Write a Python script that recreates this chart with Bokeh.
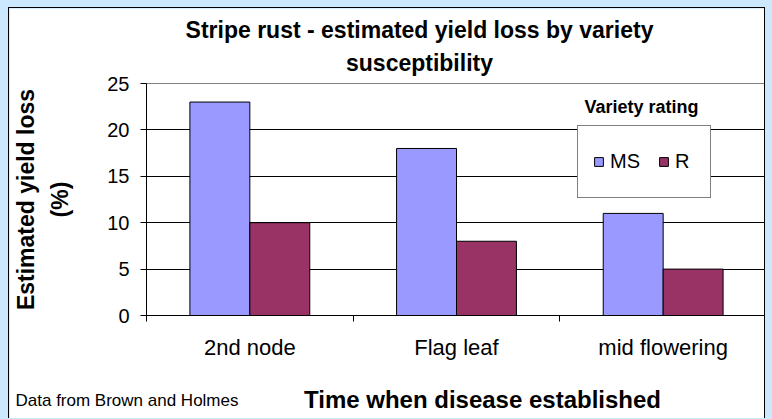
from bokeh.plotting import figure
from bokeh.models import Range1d, FixedTicker, Label, Legend, LegendItem, ColumnDataSource
from bokeh.transform import dodge
from bokeh.embed import file_html
from bokeh.resources import INLINE

categories = ["2nd node", "Flag leaf", "mid flowering"]
ms_values = [23, 18, 11]
r_values = [10, 8, 5]
series_names = ["MS", "R"]
series_colors = ["#9999FF", "#993366"]
y_ticks = [0, 5, 10, 15, 20, 25]
title_text = "Stripe rust - estimated yield loss by variety\nsusceptibility"
y_label = "Estimated yield loss\n(%)"
x_label = "Time when disease established"
note_text = "Data from Brown and Holmes"
legend_title = "Variety rating"

FONT = "Liberation Sans"

pos = [i + 0.5 for i in range(len(categories))]
src = ColumnDataSource(dict(pos=pos, ms=ms_values, r=r_values))

p = figure(width=757, height=411, output_backend="svg", toolbar_location=None, title=None,
           x_range=Range1d(0, len(categories)), y_range=Range1d(0, 25),
           min_border_left=137, min_border_right=0, min_border_top=75, min_border_bottom=104,
           background_fill_color="white", border_fill_color="white",
           styles={"border": "1px solid black", "border-bottom": "none"})
p.outline_line_color = "#808080"
p.outline_line_width = 1

r1 = p.vbar(x=dodge("pos", -0.145, range=p.x_range), top="ms", width=0.29, source=src,
            fill_color=series_colors[0], line_color="black", line_width=1)
r2 = p.vbar(x=dodge("pos", 0.145, range=p.x_range), top="r", width=0.29, source=src,
            fill_color=series_colors[1], line_color="black", line_width=1)

# x axis
xa = p.xaxis[0]
xa.ticker = FixedTicker(ticks=pos, minor_ticks=list(range(len(categories) + 1)))
xa.major_label_overrides = {pp: c for pp, c in zip(pos, categories)}
xa.major_tick_line_color = None
xa.major_tick_out = 0
xa.minor_tick_out = 6
xa.minor_tick_in = 0
xa.minor_tick_line_color = "black"
xa.axis_line_color = "black"
xa.major_label_text_font = FONT
xa.major_label_text_font_size = "22px"
xa.major_label_text_color = "black"
xa.major_label_standoff = 13

# y axis
ya = p.yaxis[0]
ya.ticker = FixedTicker(ticks=y_ticks)
ya.minor_tick_line_color = None
ya.major_tick_out = 6
ya.major_tick_in = 0
ya.major_tick_line_color = "black"
ya.axis_line_color = "black"
ya.major_label_text_font = FONT
ya.major_label_text_font_size = "20px"
ya.major_label_text_color = "black"
ya.major_label_standoff = 11
ya.axis_label = y_label
ya.axis_label_text_font = FONT
ya.axis_label_text_font_size = "23px"
ya.axis_label_text_font_style = "bold"
ya.axis_label_text_color = "black"
ya.axis_label_text_line_height = 1.3
ya.axis_label_standoff = 31

p.xgrid.grid_line_color = None
p.ygrid.ticker = FixedTicker(ticks=[5, 10, 15, 20])
p.ygrid.grid_line_color = "black"
p.ygrid.grid_line_alpha = 1

def make_label(text, x, y, size, bold=False, align="center", line_height=1.2):
    return Label(x=x, y=y, x_units="screen", y_units="screen", text=text,
                 text_font=FONT, text_font_size=size,
                 text_font_style="bold" if bold else "normal",
                 text_color="black", text_align=align, text_baseline="middle",
                 text_line_height=line_height)

p.add_layout(make_label(title_text, 273, 37, "23px", True, "center", 1.25), "above")
p.add_layout(make_label(x_label, 336, -10, "24px", True), "below")
p.add_layout(make_label(note_text, -131, 8, "17px", False, "left"), "below")
p.add_layout(make_label(legend_title, 495, 209, "18px", True), "center")

legend = Legend(items=[LegendItem(label=series_names[0], renderers=[r1]),
                       LegendItem(label=series_names[1], renderers=[r2])],
                location=(431, 117), orientation="horizontal",
                glyph_width=11, glyph_height=11, label_standoff=6, spacing=18,
                padding=15, label_height=41,
                label_text_font=FONT, label_text_font_size="20px", label_text_color="black",
                border_line_color="black", border_line_width=1,
                background_fill_color="white", background_fill_alpha=1)
p.add_layout(legend, "center")

html = file_html(p, INLINE)
html = html.replace("</head>",
                    "<style>html,body{background-color:#cce8ff;} body{padding:7px 0 0 8px;}</style></head>", 1)
open("out.html", "w").write(html)
